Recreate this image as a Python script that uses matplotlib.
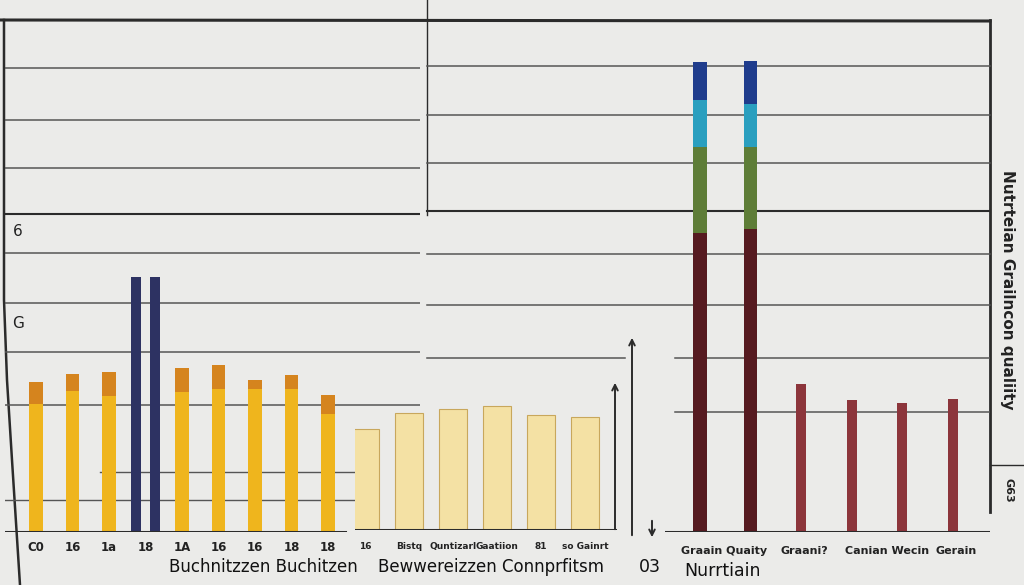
import matplotlib
matplotlib.use("Agg")
import matplotlib.pyplot as plt
import numpy as np

# ---------------- data ----------------
left_labels = ["C0", "16", "1a", "18", "1A", "16", "16", "18", "18"]
left_base = [25.0, 27.5, 26.6, None, 27.3, 27.9, 27.9, 27.9, 23.0]
left_cap = [4.3, 3.4, 4.7, None, 4.7, 4.7, 1.8, 2.8, 3.8]
navy_pair = [49.8, 49.8]

mid_labels = ["16", "Bistq", "Quntizarl", "Gaatiion", "81", "so Gainrt"]
mid_values = [19.7, 22.9, 23.6, 24.2, 22.5, 22.1]

stack_maroon = [58.4, 59.2]
stack_green = [16.8, 16.0]
stack_teal = [9.2, 8.4]
stack_navy = [7.4, 8.4]
red_values = [28.9, 25.8, 25.2, 26.0]
right_labels = ["Graain Quaity", "Graani?", "Canian Wecin", "Gerain"]

# ---------------- style ----------------
BG = "#ebebe9"
LINE = "#2b2b2b"
GRID = "#555555"
YELLOW = "#efb51d"
ORANGE = "#d5841e"
NAVY = "#2d3262"
BEIGE = "#f4e1a4"
BEIGE_EDGE = "#c8a75c"
MAROON = "#561a20"
GREEN = "#5e7d37"
TEAL = "#2a9fbf"
DBLUE = "#1f3c8c"
RED = "#8c353b"

W, H = 1024, 585
fig = plt.figure(figsize=(W / 100, H / 100), dpi=100, facecolor=BG)

bg = fig.add_axes([0, 0, 1, 1], zorder=-1)
bg.set_xlim(0, W)
bg.set_ylim(H, 0)
bg.axis("off")
bg.set_facecolor(BG)

def px_axes(x0, x1, y0=20, y1=532):
    return fig.add_axes([x0 / W, 1 - y1 / H, (x1 - x0) / W, (y1 - y0) / H])

def frac(x, a0, a1):
    return (x - a0) / (a1 - a0)

# frame decoration
bg.plot([0, 990], [20, 21], color=LINE, lw=2.2)
bg.plot([990, 990], [20, 512], color=LINE, lw=2)
bg.plot([4, 4, 7, 12, 20], [20, 300, 380, 460, 585], color=LINE, lw=1.8)
bg.plot([427, 427], [0, 215], color=LINE, lw=1)
bg.plot([990, 1024], [465, 465], color=LINE, lw=1)
bg.annotate("", xy=(615, 380), xytext=(615, 532),
            arrowprops=dict(arrowstyle="->", color=LINE, lw=1.4))
bg.annotate("", xy=(632, 335), xytext=(632, 538),
            arrowprops=dict(arrowstyle="->", color=LINE, lw=1.4))
bg.annotate("", xy=(652, 540), xytext=(652, 518),
            arrowprops=dict(arrowstyle="->", color=LINE, lw=1.4))

# ---------------- left panel ----------------
axL = px_axes(5, 420)
axL.set_ylim(0, 100)
axL.set_xlim(-0.85, 10.52)
axL.axis("off")
for v in [90.6, 80.5, 71.1, 54.5, 44.7, 35.2, 24.8]:
    axL.axhline(v, 0, 1, color=GRID, lw=1.1, zorder=0)
axL.axhline(62.1, 0, 1, color=LINE, lw=1.5, zorder=0)
axL.axhline(11.7, frac(100, 5, 420), frac(355, 5, 420), color=GRID, lw=1, zorder=0)
axL.axhline(6.25, 0, frac(355, 5, 420), color=GRID, lw=1, zorder=0)
axL.axhline(0, 0, frac(345, 5, 420), color=LINE, lw=2.2, zorder=3)

for i, (b, c) in enumerate(zip(left_base, left_cap)):
    if b is None:
        axL.bar([i - 0.26, i + 0.26], navy_pair, width=0.25, color=NAVY, zorder=2)
    else:
        axL.bar(i, b, width=0.37, color=YELLOW, zorder=2)
        axL.bar(i, c, bottom=b, width=0.37, color=ORANGE, zorder=2)
for i, lab in enumerate(left_labels):
    axL.text(i, -3.0, lab, ha="center", va="center", fontsize=8.5,
             color="#222222", fontweight="bold")

# ---------------- middle panel ----------------
axM = px_axes(355, 625, 20, 530)
axM.set_ylim(0, 100 * 510 / 512)
xm = np.arange(len(mid_values))
axM.set_xlim(-0.23, 5.91)
axM.axis("off")
axM.bar(xm, mid_values, width=0.62, color=BEIGE, edgecolor=BEIGE_EDGE, lw=0.8, zorder=2)
axM.axhline(0, 0, frac(615, 355, 625), color=LINE, lw=2.2, zorder=3)
for i, lab in enumerate(mid_labels):
    axM.text(i, -3.3, lab, ha="center", va="center", fontsize=6.5,
             color="#222222", fontweight="bold")

# ---------------- right panel ----------------
axR = px_axes(665, 990)
axR.set_ylim(0, 100)
axR.set_xlim(-0.69, 5.73)
axR.axis("off")
x_mid0 = frac(427, 665, 990)
for v in [91.0, 81.4, 72.1, 54.3, 44.3]:
    axR.axhline(v, x_mid0, 1, color=GRID, lw=1.1, zorder=0, clip_on=False)
axR.axhline(62.7, x_mid0, 1, color=LINE, lw=1.5, zorder=0, clip_on=False)
axR.axhline(33.9, x_mid0, frac(625, 665, 990), color=GRID, lw=1.1, zorder=0, clip_on=False)
for v in [33.9, 23.4]:
    axR.axhline(v, frac(675, 665, 990), 1, color=GRID, lw=1.1, zorder=0)
axR.axhline(0, 0, 1, color=LINE, lw=2.2, zorder=3)

xs = np.arange(len(stack_maroon))
bottom = np.zeros(len(xs))
for vals, col in [(stack_maroon, MAROON), (stack_green, GREEN),
                  (stack_teal, TEAL), (stack_navy, DBLUE)]:
    axR.bar(xs, vals, bottom=bottom, width=0.26, color=col, zorder=2)
    bottom += np.array(vals)
xr = np.arange(len(red_values)) + len(xs)
axR.bar(xr, red_values, width=0.2, color=RED, zorder=2)

# ---------------- text ----------------
fig.text(18 / W, 1 - 232 / H, "6", fontsize=11, ha="center", va="center", color="#222")
fig.text(18 / W, 1 - 323 / H, "G", fontsize=11, ha="center", va="center", color="#222")
fig.text(263 / W, 1 - 567 / H, "Buchnitzzen Buchitzen", fontsize=12,
         ha="center", va="center", color="#111")
fig.text(491 / W, 1 - 567 / H, "Bewwereizzen Connprfitsm", fontsize=12,
         ha="center", va="center", color="#111")
fig.text(650 / W, 1 - 567 / H, "03", fontsize=12.5, ha="center", va="center", color="#111")
fig.text(722 / W, 1 - 571 / H, "Nurrtiain", fontsize=12.5, ha="center", va="center", color="#111")
for lab, x in zip(right_labels, [724, 804, 887, 956]):
    fig.text(x / W, 1 - 551 / H, lab, fontsize=8, ha="center", va="center",
             color="#222", fontweight="bold")
fig.text(1008 / W, 1 - 290 / H, "Nutrteian Grailncon qualiity", fontsize=11,
         rotation=-90, ha="center", va="center", color="#222", fontweight="bold")
fig.text(1008 / W, 1 - 490 / H, "G63", fontsize=8, rotation=-90,
         ha="center", va="center", color="#222", fontweight="bold")

fig.savefig("out.png", dpi=100, facecolor=BG)
